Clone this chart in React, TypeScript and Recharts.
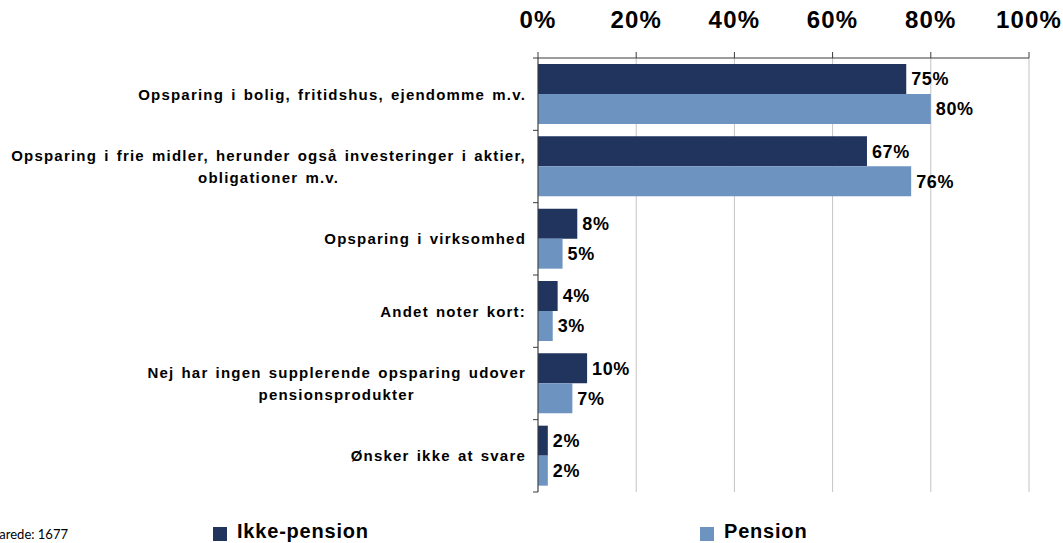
import React from "react";
import {
  BarChart,
  Bar,
  XAxis,
  YAxis,
  CartesianGrid,
  Legend,
  LabelList,
} from "recharts";

const categories = [
  "Opsparing i bolig, fritidshus, ejendomme m.v.",
  "Opsparing i frie midler, herunder også investeringer i aktier,\nobligationer m.v.",
  "Opsparing i virksomhed",
  "Andet noter kort:",
  "Nej har ingen supplerende opsparing udover\npensionsprodukter",
  "Ønsker ikke at svare",
];
const ikkePension = [75, 67, 8, 4, 10, 2];
const pension = [80, 76, 5, 3, 7, 2];
const xTicks = [0, 20, 40, 60, 80, 100];
const respondents = "Besvarede: 1677";

const DARK = "#21345E";
const LIGHT = "#6D94C1";
const AXIS = "#3a3a3a";
const FONT = "'Liberation Sans', Arial, sans-serif";

const data = categories.map((name, i) => ({
  name,
  ikke: ikkePension[i],
  pension: pension[i],
}));

// the labels in the original are set a bit wider than plain Arial
const LABEL_SIZE = 15;
const LETTER = 1.2;
const WORD = 1.8;

let ctx: CanvasRenderingContext2D | null = null;
function measure(text: string) {
  const extra = text.length * LETTER + (text.split(" ").length - 1) * WORD;
  if (!ctx) ctx = document.createElement("canvas").getContext("2d");
  if (!ctx) return text.length * 8 + extra;
  ctx.font = `bold ${LABEL_SIZE}px ${FONT}`;
  return ctx.measureText(text).width + extra;
}

// height of one category row, so the y tick marks sit on the row boundaries
const BAND = 434 / 6;

function CategoryTick(props: any) {
  const { x, y, payload, index } = props;
  const lines: string[] = String(payload.value).split("\n");
  const widest = Math.max(...lines.map(measure));
  const cx = x - widest / 2;
  const lh = 21.5;
  const y0 = y - ((lines.length - 1) * lh) / 2;
  const axisX = x + 12;
  return (
    <g>
      {index === 0 && (
        <line x1={axisX - 5} x2={axisX} y1={y - BAND / 2} y2={y - BAND / 2} stroke={AXIS} />
      )}
      <line x1={axisX - 5} x2={axisX} y1={y + BAND / 2} y2={y + BAND / 2} stroke={AXIS} />
      {lines.map((l, i) => (
        <text
          key={i}
          x={cx}
          y={y0 + i * lh}
          dy="0.36em"
          textAnchor="middle"
          fontFamily={FONT}
          fontWeight="bold"
          fontSize={LABEL_SIZE}
          fill="#000"
          style={{ letterSpacing: LETTER, wordSpacing: WORD }}
        >
          {l}
        </text>
      ))}
    </g>
  );
}

function LegendBox() {
  const item = (left: number, color: string, label: string) => (
    <>
      <span style={{ position: "absolute", left, top: 527, width: 14, height: 14, background: color }} />
      <span
        style={{
          position: "absolute",
          left: left + 24,
          top: 520,
          lineHeight: "23px",
          whiteSpace: "nowrap",
          fontFamily: FONT,
          fontWeight: "bold",
          fontSize: 20,
          letterSpacing: 0.8,
          color: "#000",
        }}
      >
        {label}
      </span>
    </>
  );
  return (
    <div style={{ position: "relative", width: 1063, height: 0 }}>
      <div
        style={{
          position: "absolute",
          right: 1063 - 68,
          top: 526,
          whiteSpace: "nowrap",
          fontFamily: "Lato, 'Open Sans', sans-serif",
          fontSize: 13,
          color: "#000",
        }}
      >
        {respondents}
      </div>
      {item(213, DARK, "Ikke-pension")}
      {item(700, LIGHT, "Pension")}
    </div>
  );
}

const valueStyle = {
  fill: "#000",
  fontSize: 18,
  fontWeight: "bold",
  fontFamily: FONT,
  letterSpacing: 0.6,
};

export default function App() {
  return (
    <div style={{ position: "absolute", left: 0, top: 0, width: 1063, height: 543, overflow: "hidden", background: "#fff" }}>
      <BarChart
        width={1063}
        height={543}
        data={data}
        layout="vertical"
        margin={{ top: 0, right: 34, bottom: 51, left: 0 }}
        barCategoryGap={6}
        barGap={0}
      >
        <CartesianGrid horizontal={false} stroke="#c4c4c4" />
        <XAxis
          type="number"
          orientation="top"
          domain={[0, 100]}
          ticks={xTicks}
          tickFormatter={(v) => `${v}%`}
          height={58}
          tickSize={6}
          tickMargin={24}
          axisLine={{ stroke: AXIS }}
          tickLine={{ stroke: AXIS }}
          tick={{ fill: "#000", fontSize: 24, fontWeight: "bold", fontFamily: FONT, letterSpacing: 1.2 }}
          interval={0}
        />
        <YAxis
          type="category"
          dataKey="name"
          width={538}
          tickSize={5}
          tickMargin={7}
          tickLine={false}
          axisLine={{ stroke: AXIS }}
          tick={<CategoryTick />}
          interval={0}
        />
        <Legend
          content={() => <LegendBox />}
          wrapperStyle={{ left: 0, top: 0, bottom: "auto", width: 1063, height: 0 }}
        />
        <Bar dataKey="ikke" name="Ikke-pension" fill={DARK} isAnimationActive={false}>
          <LabelList dataKey="ikke" position="right" offset={5} formatter={(v: any) => `${v}%`} style={valueStyle} />
        </Bar>
        <Bar dataKey="pension" name="Pension" fill={LIGHT} isAnimationActive={false}>
          <LabelList dataKey="pension" position="right" offset={5} formatter={(v: any) => `${v}%`} style={valueStyle} />
        </Bar>
      </BarChart>
    </div>
  );
}
